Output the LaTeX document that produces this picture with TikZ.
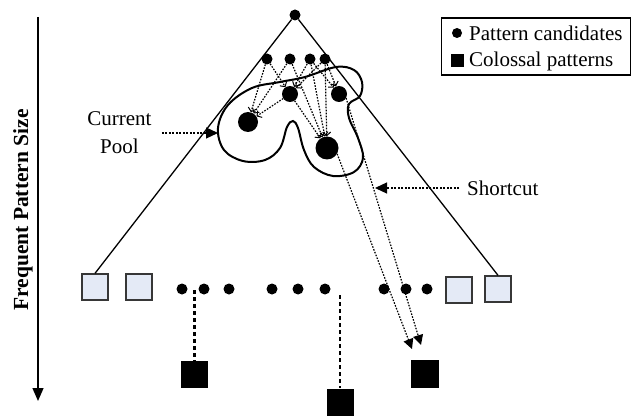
\documentclass[tikz,border=0pt]{standalone}
\usepackage{fontspec}
\setmainfont{Liberation Serif}
\usetikzlibrary{arrows.meta}
\definecolor{lightsq}{RGB}{228,234,246}
\definecolor{sqedge}{RGB}{55,55,55}
\begin{document}
\begin{tikzpicture}[x=1pt,y=-1pt,
  cand/.style={circle,fill=black,inner sep=0pt,minimum size=11pt},
  pooln/.style={circle,fill=black,inner sep=0pt},
  lite/.style={draw=sqedge,fill=lightsq,line width=1.3pt,minimum size=26pt,inner sep=0pt},
  colo/.style={fill=black,minimum size=27pt,inner sep=0pt},
  dotarrow/.style={dash pattern=on 1.6pt off 1.4pt,line width=1.2pt,-{Straight Barb[length=3.5pt,width=8pt,line width=1pt]}},
  shortarrow/.style={dash pattern=on 1.6pt off 1.4pt,line width=1.2pt,-{Triangle[length=10pt,width=10pt]}},
  labarrow/.style={dash pattern=on 2pt off 1.5pt,line width=1.2pt,-{Triangle[length=12pt,width=11pt]}},
  vdash/.style={dash pattern=on 4pt off 3pt,line width=2.4pt},
  lbl/.style={font=\fontsize{21}{28}\selectfont,inner sep=0pt},
  pool/.style={line width=2pt},
  edge/.style={line width=1.3pt}
]
\useasboundingbox (0,0) rectangle (632,417);

% axis
\coordinate (axTop) at (38,17);
\coordinate (axBot) at (38,401);
\draw[line width=1.3pt,-{Triangle[length=13pt,width=11pt]}] (axTop) -- (axBot);
\node[lbl,font=\fontsize{21.5}{26}\selectfont\bfseries,rotate=90] (axlab) at (23,210) {Frequent Pattern Size};

% legend
\node[draw,line width=1.2pt,minimum width=189pt,minimum height=57pt,inner sep=0pt] (leg) at (536,46.5) {};
\node[cand,minimum size=10pt] (legdot) at (457,33) {};
\node[lbl,anchor=west] (legt1) at (469,33) {Pattern candidates};
\node[fill=black,minimum size=13pt,inner sep=0pt] (legsq) at (457,61) {};
\node[lbl,anchor=west] (legt2) at (469,61) {Colossal patterns};

% root and top row
\node[cand] (root) at (295,15) {};
\node[cand] (T1) at (267,59) {};
\node[cand] (T2) at (290,59) {};
\node[cand] (T3) at (310,59) {};
\node[cand] (T4) at (325,59) {};

% pool nodes
\node[pooln,minimum size=16pt] (P1) at (290,94) {};
\node[pooln,minimum size=16pt] (P2) at (339,94) {};
\node[pooln,minimum size=20pt] (P3) at (248,122) {};
\node[pooln,minimum size=23pt] (P4) at (327,148) {};

% bottom row
\node[lite] (L1) at (95,287) {};
\node[lite] (L2) at (139,287) {};
\node[lite] (R1) at (459,290) {};
\node[lite] (R2) at (498,289) {};
\node[cand] (B1) at (182,289) {};
\node[cand] (B2) at (204,289) {};
\node[cand] (B3) at (229,289) {};
\node[cand] (B4) at (272,289) {};
\node[cand] (B5) at (298,289) {};
\node[cand] (B6) at (325,289) {};
\node[cand] (B7) at (384,289) {};
\node[cand] (B8) at (406,289) {};
\node[cand] (B9) at (427,289) {};

% colossal patterns
\node[colo] (C1) at (194.5,374) {};
\node[colo] (C2) at (340,402) {};
\node[colo,minimum size=28pt] (C3) at (425,374) {};

% triangle
\draw[edge] (root) -- (L1.north);
\draw[edge] (root) -- (R2.north);

% pool boundary
\draw[pool] plot[smooth cycle,tension=0.6] coordinates {
 (336,67) (354,70) (362,82) (360,96) (349,104) (349,118) (358,138) (363,158)
 (354,172) (333,176) (314,167) (304,150) (298,128) (293,121) (287,127) (280,148)
 (265,160) (243,161) (224,150) (218,128) (228,105) (252,88) (280,82) (305,77)};

% candidate arrows
\draw[dotarrow] (T1) -- (P1);
\draw[dotarrow] (T3) -- (P1);
\draw[dotarrow] (T4) -- (P1);
\draw[dotarrow] (T3) -- (P2);
\draw[dotarrow] (T4) -- (P2);
\draw[dotarrow] (T1) -- (P3);
\draw[dotarrow] (T2) -- (P3);
\draw[dotarrow] (P1) -- (P3);
\draw[dotarrow] (T2) -- (P4);
\draw[dotarrow] (T3) -- (P4);
\draw[dotarrow] (T4) -- (P4);
\draw[dotarrow] (P1) -- (P4);

% shortcuts
\coordinate (tipA) at (412,349);
\coordinate (tipB) at (421,345);
\draw[shortarrow] (P4.-30) -- (tipA);
\draw[shortarrow] (P2.-30) -- (tipB);

% dashed verticals
\coordinate (v1) at (194.5,290);
\coordinate (v2) at (340,295);
\draw[vdash] (v1) -- (C1.north);
\draw[vdash] (v2) -- (C2.north);

% labels
\node[lbl,align=center] (cp) at (119.5,133) {Current\\Pool};
\coordinate (cpTip) at (218,133);
\draw[labarrow] ([xshift=10pt]cp.east) -- (cpTip);
\node[lbl,anchor=west] (sc) at (467,188) {Shortcut};
\coordinate (scTip) at (375,188);
\draw[labarrow] ([xshift=-8pt]sc.west) -- (scTip);
\end{tikzpicture}
\end{document}
